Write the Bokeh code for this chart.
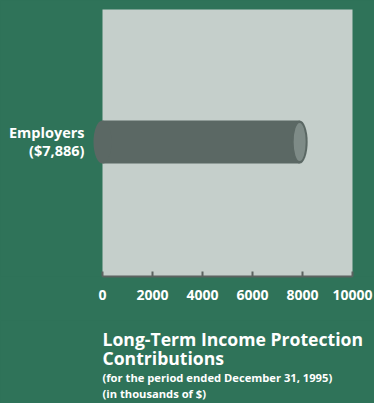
from bokeh.plotting import figure
from bokeh.models import Range1d, Label, FixedTicker
from bokeh.layouts import column
from bokeh.embed import file_html
from bokeh.resources import INLINE

# ---- data ----
categories = ["Employers"]
values = [7886]
value_labels = ["($7,886)"]
ticks = [0, 2000, 4000, 6000, 8000, 10000]
tick_labels = ["0", "2000", "4000", "6000", "8000", "10000"]
x_max = 10000
title_lines = ["Long-Term Income Protection", "Contributions"]
subtitle_lines = ["(for the period ended December 31, 1995)", "(in thousands of $)"]

# ---- style ----
GREEN = "#2f7359"
PANEL = "#c5cfcb"
BAR = "#5b6864"
CAP = "#7e8b87"
AXIS = "#5b6360"
FONT = "Open Sans"
U = 40  # data units per pixel along x
TOP_H = 320

p = figure(width=374, height=TOP_H,
           x_range=Range1d(-102 * U, 272 * U), y_range=Range1d(276, 0),
           output_backend="svg", toolbar_location=None,
           y_axis_location=None,
           min_border_left=0, min_border_right=0, min_border_top=0,
           min_border_bottom=TOP_H - 276,
           styles={"background-color": GREEN})
p.background_fill_color = GREEN
p.border_fill_color = GREEN
p.outline_line_color = None
p.grid.visible = False

# grey panel
p.quad(left=[0], right=[x_max], top=[9], bottom=[276], fill_color=PANEL, line_color=None)

# cylinder bar
yc = 141.5
bh = 43
p.hbar(y=[yc], left=[0], right=values, height=bh, fill_color=BAR, line_color=None)
p.ellipse(x=[0], y=[yc], width=18 * U, height=bh, fill_color=BAR, line_color=None)
p.ellipse(x=values, y=[yc], width=16 * U, height=bh, fill_color=BAR, line_color=None)
p.ellipse(x=values, y=[yc], width=12 * U, height=bh - 5, fill_color=CAP, line_color=None)

# category labels
p.add_layout(Label(x=-18 * U, y=132, text=categories[0], text_align="right",
                   text_baseline="middle", text_color="white", text_font=FONT,
                   text_font_style="bold", text_font_size="14.5px"))
p.add_layout(Label(x=-18 * U, y=150, text=value_labels[0], text_align="right",
                   text_baseline="middle", text_color="white", text_font=FONT,
                   text_font_style="bold", text_font_size="14.5px"))

# axis
ax = p.xaxis[0]
ax.bounds = (0, x_max)
ax.ticker = FixedTicker(ticks=ticks)
ax.major_label_overrides = {t: s for t, s in zip(ticks, tick_labels)}
ax.axis_line_color = AXIS
ax.axis_line_width = 2
ax.major_tick_line_color = AXIS
ax.major_tick_line_width = 2
ax.major_tick_in = 5
ax.major_tick_out = 0
ax.minor_tick_line_color = None
ax.major_label_standoff = 13
ax.major_label_text_color = "white"
ax.major_label_text_font = FONT
ax.major_label_text_font_style = "bold"
ax.major_label_text_font_size = "14px"

# ---- title block ----
q = figure(width=374, height=403 - TOP_H,
           x_range=Range1d(-102 * U, 272 * U), y_range=Range1d(403, TOP_H),
           output_backend="svg", toolbar_location=None,
           x_axis_location=None, y_axis_location=None,
           min_border_left=0, min_border_right=0, min_border_top=0, min_border_bottom=0,
           styles={"background-color": GREEN})
q.background_fill_color = GREEN
q.border_fill_color = GREEN
q.outline_line_color = None
q.grid.visible = False

for txt, yy in zip(title_lines, [338, 357]):
    q.add_layout(Label(x=0, y=yy, text=txt, text_align="left", text_baseline="middle",
                       text_color="white", text_font=FONT, text_font_style="bold",
                       text_font_size="17.6px"))
for txt, yy in zip(subtitle_lines, [377, 393]):
    q.add_layout(Label(x=0, y=yy, text=txt, text_align="left", text_baseline="middle",
                       text_color="white", text_font=FONT, text_font_style="bold",
                       text_font_size="11.2px"))

layout = column(p, q, spacing=0, styles={"background-color": GREEN})
open("out.html", "w").write(file_html(layout, INLINE))
